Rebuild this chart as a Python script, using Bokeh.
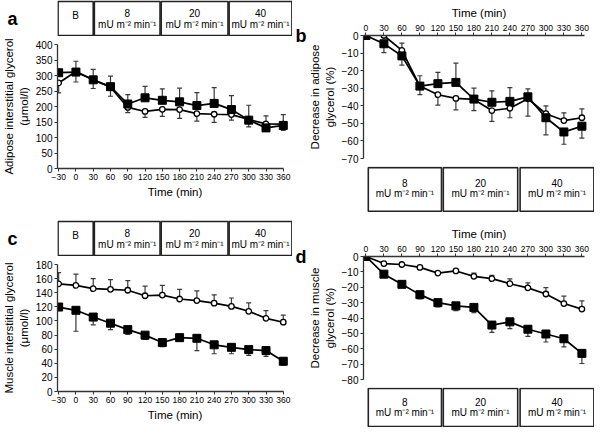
from bokeh.plotting import figure
from bokeh.layouts import column, row
from bokeh.models import ColumnDataSource, Whisker, TeeHead, FixedTicker, Range1d, LinearAxis
from bokeh.embed import file_html
from bokeh.resources import INLINE
from bokeh.core.properties import value

FONT = "Liberation Sans"

# ---------------- data ----------------
# Panel a: adipose interstitial glycerol (umol/l)
time_ac = [-30, 0, 30, 60, 90, 120, 150, 180, 210, 240, 270, 300, 330, 360]
adipose_sq = [309, 311, 286, 264, 208, 228, 220, 215, 203, 210, 190, 156, 131, 139]
adipose_sq_sd = [0, 35, 34, 34, 30, 37, 37, 44, 42, 51, 45, 48, 39, 35]      # drawn upwards
adipose_ci = [276, 313, 286, 262, 197, 184, 191, 190, 177, 175, 174, 158, 144, 143]
adipose_ci_sd = [32, 34, 28, 29, 17, 19, 23, 28, 24, 26, 18, 24, 20, 20]     # drawn downwards

# Panel b: decrease in adipose glycerol (%)
time_bd = [0, 30, 60, 90, 120, 150, 180, 210, 240, 270, 300, 330, 360]
time_b_ci = [30, 60, 90, 120, 150, 180, 210, 240, 270, 300, 330, 360]
adip_dec_sq = [0, -4.7, -11.6, -28.8, -27.4, -26.7, -36.2, -38.0, -37.5, -34.9, -46.8, -54.9, -51.6]
adip_dec_sq_up = [0, 0, 0, 5.9, 6.4, 11.0, 6.2, 6.5, 7.8, 4.5, 0, 0, 0]
adip_dec_sq_dn = [0, 5.0, 5.3, 0, 0, 0, 0, 0, 0, 0, 9.7, 7.0, 6.8]
adip_dec_ci = [0, -8.5, -28.8, -33.7, -35.8, -36.4, -42.7, -41.4, -36.0, -44.5, -48.4, -46.8]
adip_dec_ci_up = [0, 4.2, 0, 0, 0, 0, 0, 0, 0, 4.5, 4.4, 5.0]
adip_dec_ci_dn = [0, 0, 4.9, 5.9, 6.5, 6.3, 6.2, 5.4, 9.9, 0, 0, 0]

# Panel c: muscle interstitial glycerol (umol/l)
muscle_ci = [152.6, 150.3, 145.7, 144.8, 143.5, 135.7, 136.6, 131.1, 128.8, 125.2, 120.6, 113.7, 103.7, 98.2]
muscle_ci_sd = [16, 16, 14.2, 13.7, 13.6, 13.7, 13.7, 13.7, 13.7, 11.8, 11.9, 11.9, 10.9, 10]     # upwards
muscle_sq = [119.7, 115.1, 105.5, 96.8, 87.7, 79.9, 69.4, 76.3, 75.4, 66.2, 62.6, 59.4, 58.0, 42.9]
muscle_sq_sd = [0, 29.7, 11, 9.1, 6.8, 5.9, 5.9, 3, 17.4, 12.7, 9.1, 8.2, 8.2, 5.4]                # downwards

# Panel d: decrease in muscle glycerol (%)
musc_dec_ci = [0, -4.6, -5.2, -7.1, -10.8, -9.4, -12.9, -14.4, -17.7, -20.4, -24.4, -30.6, -34.2]
musc_dec_ci_sd = [0, 0, 0, 0, 0, 0, 2.1, 2.1, 3.1, 3.3, 4.2, 4.8, 5.3]          # upwards
musc_dec_sq = [0, -11.5, -18.1, -24.8, -30.0, -32.1, -33.1, -44.6, -42.5, -47.3, -50.4, -53.5, -63.0]
musc_dec_sq_sd = [0, 0, 0, 2.7, 2.7, 3.1, 3.4, 4.8, 4.4, 4.6, 5.2, 5.3, 6.6]    # downwards

ticks_a = [0, 50, 100, 150, 200, 250, 300, 350, 400]
ticks_b = [-70, -60, -50, -40, -30, -20, -10, 0]
ticks_c = [0, 20, 40, 60, 80, 100, 120, 140, 160, 180]
ticks_d = [-80, -70, -60, -50, -40, -30, -20, -10, 0]

dose_top = ["B", "8", "20", "40"]
dose_bottom = ["8", "20", "40"]
dose_unit = "mU m\u207b\u00b2 min\u207b\u00b9"
period_top_start = [-31, 32, 148, 266]
period_top_end = [30, 146, 264, 375]
period_bot_start = [4, 129, 257]
period_bot_end = [126, 253, 380]

ZEROS_AC = [0] * len(time_ac)
ZEROS_BD = [0] * len(time_bd)

AX_COLOR = "#333333"
ERR_COLOR = "#3a3a3a"


def letter_axis(p, txt, standoff, align):
    ax = LinearAxis(ticker=FixedTicker(ticks=[]), axis_line_color=None,
                    major_tick_line_color=None, minor_tick_line_color=None,
                    major_label_text_font_size="0px", axis_label=txt,
                    axis_label_standoff=standoff, axis_label_text_font=FONT,
                    axis_label_text_font_size="18px", axis_label_text_font_style="bold",
                    axis_label_text_color="black")
    try:
        ax.axis_label_orientation = "horizontal"
    except Exception:
        pass
    try:
        ax.axis_label_align = align
    except Exception:
        pass
    p.add_layout(ax, "left")


def make_plot(w, h, xr, x_bounds, yr, xticks, yticks, ylabel, above, borders):
    l, r, t, b = borders
    p = figure(width=w, height=h, x_range=xr, y_range=Range1d(*yr),
               x_axis_location="above" if above else "below",
               toolbar_location=None, output_backend="svg",
               min_border_left=l, min_border_right=r, min_border_top=t, min_border_bottom=b)
    p.outline_line_color = None
    p.background_fill_color = "white"
    p.border_fill_color = "white"
    p.grid.visible = False
    p.xaxis.ticker = FixedTicker(ticks=xticks)
    p.yaxis.ticker = FixedTicker(ticks=yticks)
    p.xaxis.bounds = x_bounds
    p.xaxis.axis_label = "Time (min)"
    p.yaxis.axis_label = ylabel
    for ax in p.xaxis + p.yaxis:
        ax.axis_line_color = AX_COLOR
        ax.axis_line_width = 1.3
        ax.major_tick_line_color = AX_COLOR
        ax.major_tick_line_width = 1
        ax.major_tick_out = 3
        ax.major_tick_in = 0
        ax.minor_tick_line_color = None
        ax.major_label_text_font = FONT
        ax.major_label_text_color = "black"
        ax.major_label_standoff = 2
        ax.axis_label_text_font = FONT
        ax.axis_label_text_font_size = "11.5px"
        ax.axis_label_text_font_style = "normal"
        ax.axis_label_text_color = "black"
        ax.axis_label_standoff = 3
    p.xaxis.major_label_text_font_size = "8.5px"
    p.yaxis.major_label_text_font_size = "10px"
    return p


def add_errors(p, t, y, up, dn):
    ut = [ti for ti, e in zip(t, up) if e > 0]
    uy = [yi for yi, e in zip(y, up) if e > 0]
    uh = [yi + e for yi, e in zip(y, up) if e > 0]
    if ut:
        src = ColumnDataSource(dict(t=ut, lo=uy, hi=uh))
        p.add_layout(Whisker(source=src, base="t", lower="lo", upper="hi", dimension="height",
                             line_color=ERR_COLOR, line_width=1.2, lower_head=None,
                             upper_head=TeeHead(size=5, line_color=ERR_COLOR, line_width=1.2)))
    dt = [ti for ti, e in zip(t, dn) if e > 0]
    dy = [yi for yi, e in zip(y, dn) if e > 0]
    dl = [yi - e for yi, e in zip(y, dn) if e > 0]
    if dt:
        src = ColumnDataSource(dict(t=dt, lo=dl, hi=dy))
        p.add_layout(Whisker(source=src, base="t", lower="lo", upper="hi", dimension="height",
                             line_color=ERR_COLOR, line_width=1.2, upper_head=None,
                             lower_head=TeeHead(size=5, line_color=ERR_COLOR, line_width=1.2)))


def add_series(p, t, y, kind):
    p.line(t, y, line_color="black", line_width=1.7)
    if kind == "square":
        p.scatter(t, y, marker="square", size=8, fill_color="black", line_color="black")
    else:
        p.scatter(t, y, marker="circle", size=5.5, fill_color="white", line_color="black",
                  line_width=1.3)


def box_fig(w, h, xr, left_border, starts, ends, doses, y1, y2):
    p = figure(width=w, height=h, x_range=xr, y_range=Range1d(0, 1),
               x_axis_type=None, y_axis_type=None, toolbar_location=None, output_backend="svg",
               min_border_left=left_border, min_border_right=0, min_border_top=0,
               min_border_bottom=0)
    p.outline_line_color = None
    p.grid.visible = False
    p.quad(left=starts, right=ends, bottom=0.025, top=0.975, fill_color="white",
           line_color="#222222", line_width=1.6)
    cx = [(a + b) / 2 for a, b in zip(starts, ends)]
    one_x = [c for c, d in zip(cx, doses) if d == "B"]
    one_t = [d for d in doses if d == "B"]
    two_x = [c for c, d in zip(cx, doses) if d != "B"]
    two_t = [d for d in doses if d != "B"]
    common = dict(text_align="center", text_baseline="middle", text_font=value(FONT),
                  text_font_size="10px", text_color="black")
    if one_x:
        p.text(x=one_x, y=[0.57] * len(one_x), text=one_t, **common)
    p.text(x=two_x, y=[y1] * len(two_x), text=two_t, **common)
    p.text(x=two_x, y=[y2] * len(two_x), text=[dose_unit] * len(two_x), **common)
    return p


# ---------------- left column ----------------
LW = 292
LB = 52
xr_ac = Range1d(-32, 376)

box_a = box_fig(LW, 36, xr_ac, LB, period_top_start, period_top_end, dose_top, 0.65, 0.32)
letter_axis(box_a, "a", 40, "center")

pa = make_plot(LW, 184, xr_ac, (-32, 360), (0, 400), time_ac, ticks_a,
               "Adipose interstitial glycerol\n(\u03bcmol/l)", False, (LB, 0, 8, 52))
add_errors(pa, time_ac, adipose_sq, adipose_sq_sd, ZEROS_AC)
add_errors(pa, time_ac, adipose_ci, ZEROS_AC, adipose_ci_sd)
add_series(pa, time_ac, adipose_ci, "circle")
add_series(pa, time_ac, adipose_sq, "square")

box_c = box_fig(LW, 36, xr_ac, LB, period_top_start, period_top_end, dose_top, 0.66, 0.34)
letter_axis(box_c, "c", 40, "center")

pc = make_plot(LW, 171, xr_ac, (-32, 360), (0, 180), time_ac, ticks_c,
               "Muscle interstitial glycerol\n(\u03bcmol/l)", False, (LB, 0, 8, 36))
add_errors(pc, time_ac, muscle_ci, muscle_ci_sd, ZEROS_AC)
add_errors(pc, time_ac, muscle_sq, ZEROS_AC, muscle_sq_sd)
add_series(pc, time_ac, muscle_ci, "circle")
add_series(pc, time_ac, muscle_sq, "square")

# ---------------- right column ----------------
RW = 302
RB = 63
xr_bd = Range1d(-4, 381)

pb = make_plot(RW, 166, xr_bd, (-4, 365), (-70, 0), time_bd, ticks_b,
               "Decrease in adipose\nglycerol (%)", True, (RB, 0, 35, 8))
letter_axis(pb, "b", 0, "end")
add_errors(pb, time_bd, adip_dec_sq, adip_dec_sq_up, adip_dec_sq_dn)
add_errors(pb, time_b_ci, adip_dec_ci, adip_dec_ci_up, adip_dec_ci_dn)
add_series(pb, time_b_ci, adip_dec_ci, "circle")
add_series(pb, time_bd, adip_dec_sq, "square")

box_b = box_fig(RW, 46, xr_bd, RB, period_bot_start, period_bot_end, dose_bottom, 0.64, 0.41)

pd_ = make_plot(RW, 175, xr_bd, (-4, 365), (-80, 0), time_bd, ticks_d,
                "Decrease in muscle\nglycerol (%)", True, (RB, 0, 44, 8))
letter_axis(pd_, "d", 0, "end")
add_errors(pd_, time_bd, musc_dec_ci, musc_dec_ci_sd, ZEROS_BD)
add_errors(pd_, time_bd, musc_dec_sq, ZEROS_BD, musc_dec_sq_sd)
add_series(pd_, time_bd, musc_dec_ci, "circle")
add_series(pd_, time_bd, musc_dec_sq, "square")

box_d = box_fig(RW, 40, xr_bd, RB, period_bot_start, period_bot_end, dose_bottom, 0.63, 0.37)

left = column(box_a, pa, box_c, pc, spacing=0)
right = column(pb, box_b, pd_, box_d, spacing=0)
layout = row(left, right, spacing=0)

open("out.html", "w").write(file_html(layout, INLINE))
